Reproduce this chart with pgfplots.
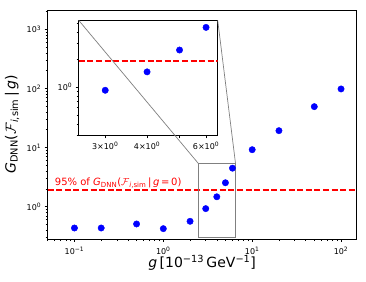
\documentclass[border=0pt]{standalone}
\usepackage{fontspec}
\setmainfont{DejaVu Sans}
\usepackage{pgfplots}
\pgfplotsset{compat=1.18}
\definecolor{mpred}{RGB}{255,0,0}
\definecolor{mpblue}{RGB}{0,0,255}
\definecolor{boxgray}{RGB}{128,128,128}
\newcommand{\Gsim}{\textit{G}\textsubscript{DNN}($\mathcal{F}$\textsubscript{\textit{i},sim}\,|\,\textit{g}}
\begin{document}
\begin{tikzpicture}
\begin{axis}[
  name=main, at={(0pt,0pt)}, anchor=south west,
  scale only axis, width=309pt, height=229pt,
  xmode=log, ymode=log,
  xmin=0.05, xmax=150, ymin=0.284, ymax=2120,
  tick pos=left, tick align=outside,
  major tick length=3pt, minor tick length=2pt,
  every tick/.style={black, line width=0.6pt},
  axis line style={line width=0.8pt},
  xtick={0.1,1,10,100},
  xticklabels={10\textsuperscript{−1},10\textsuperscript{0},10\textsuperscript{1},10\textsuperscript{2}},
  minor xtick={0.05,0.06,0.07,0.08,0.09,0.2,0.3,0.4,0.5,0.6,0.7,0.8,0.9,2,3,4,5,6,7,8,9,20,30,40,50,60,70,80,90},
  ytick={1,10,100,1000},
  yticklabels={10\textsuperscript{0},10\textsuperscript{1},10\textsuperscript{2},10\textsuperscript{3}},
  minor ytick={0.3,0.4,0.5,0.6,0.7,0.8,0.9,2,3,4,5,6,7,8,9,20,30,40,50,60,70,80,90,200,300,400,500,600,700,800,900,2000},
  ticklabel style={font=\fontsize{8}{9}\selectfont},
  xticklabel style={yshift=-1.5pt},
  xlabel={\textit{g}\,[10\textsuperscript{−13}\,GeV\textsuperscript{−1}]},
  ylabel={\Gsim)},
  xlabel style={at={(axis description cs:0.5,0)}, anchor=base, yshift=-28.5pt, font=\fontsize{14}{16}\selectfont},
  ylabel style={at={(axis description cs:-0.1155,0.5)}, anchor=center, font=\fontsize{14}{16}\selectfont},
]
\addplot[only marks, mark=*, mark size=3.2pt, color=mpblue] coordinates {
  (0.1,0.436) (0.2,0.436) (0.5,0.51) (1,0.425) (2,0.566) (3,0.927) (4,1.47)
  (5,2.54) (6,4.48) (10,9.2) (20,19.3) (50,49.2) (100,98)
};
\addplot[mpred, line width=1.7pt, dash pattern=on 6pt off 2.6pt] coordinates {(0.05,1.94) (150,1.94)};
\node[mpred, anchor=base west, inner sep=0pt, font=\fontsize{10}{12}\selectfont] at (axis cs:0.06,2.27) {95\% of \Gsim\,=\,0)};
\draw[boxgray, line width=0.9pt] (axis cs:2.5,0.3) rectangle (axis cs:6.5,5.3);
\coordinate (rtl) at (axis cs:2.5,5.3);
\coordinate (rtr) at (axis cs:6.5,5.3);
\end{axis}
\begin{axis}[
  name=ins, at={(31pt,103.7pt)}, anchor=south west,
  scale only axis, width=139pt, height=115pt,
  xmode=log, ymode=log,
  xmin=2.5, xmax=6.5, ymin=0.3, ymax=5.35,
  axis background/.style={fill=white},
  tick pos=left, tick align=outside,
  major tick length=3pt, minor tick length=2pt,
  every tick/.style={black, line width=0.6pt},
  axis line style={line width=0.8pt},
  xtick={3,4,5,6},
  xticklabels={3×10\textsuperscript{0},4×10\textsuperscript{0},,6×10\textsuperscript{0}},
  ytick={1},
  yticklabels={10\textsuperscript{0}},
  minor ytick={0.3,0.4,0.5,0.6,0.7,0.8,0.9,2,3,4,5},
  ticklabel style={font=\fontsize{8}{9}\selectfont},
]
\addplot[only marks, mark=*, mark size=3.2pt, color=mpblue] coordinates {
  (3,0.927) (4,1.47) (5,2.54) (6,4.48)
};
\addplot[mpred, line width=1.7pt, dash pattern=on 6pt off 2.6pt] coordinates {(2.5,1.94) (6.5,1.94)};
\end{axis}
\draw[boxgray, line width=0.7pt] (ins.north west) -- (rtl);
\draw[boxgray, line width=0.7pt] (ins.north east) -- (rtr);
\pgfresetboundingbox
\path[use as bounding box] (-47.7pt,-42pt) rectangle (318.3pt,239pt);
\end{tikzpicture}
\end{document}
